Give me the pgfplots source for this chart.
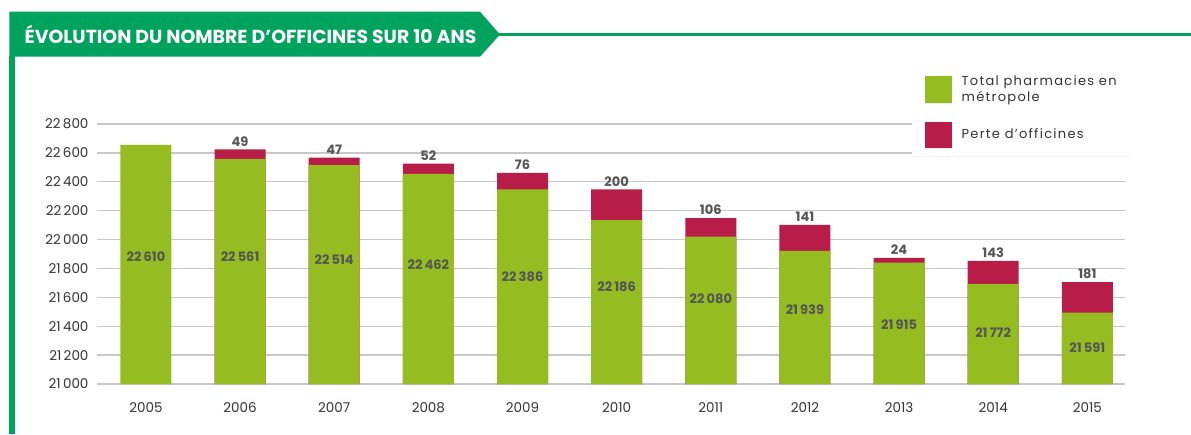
\documentclass[border=0pt]{standalone}
\usepackage{fontspec}
\setmainfont{Poppins}
\newfontfamily\legfont{Poppins}[LetterSpace=10]
\usepackage{pgfplots}
\pgfplotsset{compat=1.18}
\usetikzlibrary{shadows}
\definecolor{bannerGreen}{HTML}{00A35D}
\definecolor{barGreen}{HTML}{95BD21}
\definecolor{barRed}{HTML}{B81D4A}
\definecolor{gridGray}{HTML}{C8C8C8}
\definecolor{textDark}{HTML}{333333}
\definecolor{labGray}{HTML}{555555}

\pgfplotstableread{
x green total loss
0 22655 22655 0
1 22558 22625 49
2 22516 22567 47
3 22455 22526 52
4 22347 22462 76
5 22135 22347 200
6 22021 22148 106
7 21922 22101 141
8 21841 21873 24
9 21693 21852 143
10 21494 21705 181
}\bars

\pgfplotstableread{
x ly val
0 21879 22610
1 21879 22561
2 21858 22514
3 21824 22462
4 21741 22386
5 21672 22186
6 21588 22080
7 21512 21939
8 21408 21915
9 21353 21772
10 21249 21591
}\labs

\begin{document}
\begin{tikzpicture}[x=1pt,y=1pt]
\useasboundingbox (0,0) rectangle (1191,434);
% banner
\fill[bannerGreen] (9.3,422.3) -- (480,422.3) -- (500,399.5) -- (480,377.3) -- (9.3,377.3) -- cycle;
\draw[bannerGreen, line width=2.4pt] (498,399.5) -- (1191,399.5);
\fill[bannerGreen] (9.3,0) rectangle (15,378);
\node[anchor=west, text=white, inner sep=0pt, font=\bfseries\fontsize{18.85}{22}\selectfont] at (24.5,399.3) {ÉVOLUTION DU NOMBRE D’OFFICINES SUR 10 ANS};

\begin{axis}[
  at={(97pt,50pt)}, anchor=south west,
  scale only axis, width=1028pt, height=260pt,
  xmin=-0.52, xmax=10.40, ymin=21000, ymax=22800,
  ytick={21000,21200,...,22800},
  xtick={0,...,10},
  xticklabels={2005,2006,2007,2008,2009,2010,2011,2012,2013,2014,2015},
  scaled y ticks=false,
  /pgf/number format/assume math mode=true,
  /pgf/number format/1000 sep={\,},
  axis line style={draw=none},
  major tick length=0pt,
  ymajorgrids,
  grid style={gridGray, line width=1.3pt},
  ticklabel style={font=\fontsize{13.5}{16}\selectfont, text=textDark},
  yticklabel style={xshift=-5pt},
  xticklabel style={yshift=-15pt},
  legend style={at={(rel axis cs:0.7928,1.2308)}, anchor=north west,
    draw=none, fill=white,
    drop shadow={shadow xshift=0pt, shadow yshift=-1pt, opacity=0.08},
    font=\legfont\fontsize{13}{16}\selectfont, text=textDark,
    cells={anchor=west, align=left},
    inner xsep=13pt, inner ysep=9pt, row sep=17pt,
    /tikz/every odd column/.append style={column sep=8pt}},
]
\addlegendimage{legend image code/.code={\fill[barGreen] (0pt,-13pt) rectangle (26pt,13pt);}}
\addlegendentry{Total pharmacies en\\métropole}
\addlegendimage{legend image code/.code={\fill[barRed] (0pt,-12.5pt) rectangle (26pt,12.5pt);}}
\addlegendentry{Perte d’officines}

\addplot[ybar, bar width=51pt, bar shift=0pt, fill=barRed, draw=none, forget plot,
  skip coords between index={0}{1},
  point meta=explicit,
  nodes near coords={\pgfmathprintnumber[fixed,precision=0]{\pgfplotspointmeta}},
  nodes near coords style={anchor=south, inner sep=0pt, yshift=3pt, text=labGray, font=\bfseries\fontsize{13}{15}\selectfont}]
  table[x=x, y=total, meta=loss] {\bars};
\addplot[ybar, bar width=51pt, bar shift=0pt, fill=barGreen, draw=none, forget plot]
  table[x=x, y=green] {\bars};
\addplot[only marks, mark=*, mark size=0pt, forget plot,
  scatter/use mapped color={draw=none, fill=none},
  point meta=explicit,
  nodes near coords={\pgfmathprintnumber[fixed,precision=0,1000 sep={\,}]{\pgfplotspointmeta}},
  nodes near coords style={anchor=center, inner sep=0pt, text=labGray, font=\bfseries\fontsize{13}{15}\selectfont}]
  table[x=x, y=ly, meta=val] {\labs};
\end{axis}
\end{tikzpicture}
\end{document}
